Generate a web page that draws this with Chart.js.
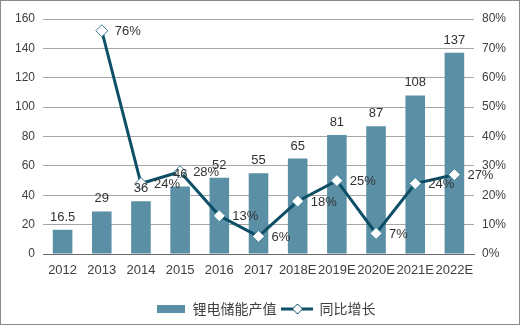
<!DOCTYPE html>
<html>
<head>
<meta charset="utf-8">
<script src="https://cdn.jsdelivr.net/npm/chart.js@4/dist/chart.umd.min.js"></script>
<style>
  html, body { margin: 0; padding: 0; background: #fff; }
  #wrap { width: 523px; height: 326px; }
</style>
</head>
<body>
<div id="wrap"><canvas id="chart" width="523" height="326"></canvas></div>
<script>
// chart data
const years = ['2012', '2013', '2014', '2015', '2016', '2017', '2018E', '2019E', '2020E', '2021E', '2022E'];
const output = [16.5, 29, 36, 46, 52, 55, 65, 81, 87, 108, 137];
const growth = [null, 76, 24, 28, 13, 6, 18, 25, 7, 24, 27];
const leftTicks = [0, 20, 40, 60, 80, 100, 120, 140, 160];
const rightTicks = [0, 10, 20, 30, 40, 50, 60, 70, 80];

const barColor = '#5b8fa6';
const lineColor = '#0d4f66';
const textColor = '#404040';

// legend icons
function barIcon() {
    const c = document.createElement('canvas');
    c.width = 28; c.height = 8;
    const g = c.getContext('2d');
    g.fillStyle = barColor;
    g.fillRect(0, 0, 28, 8);
    return c;
}
function lineIcon() {
    const c = document.createElement('canvas');
    c.width = 32; c.height = 12;
    const g = c.getContext('2d');
    g.strokeStyle = lineColor;
    g.lineWidth = 3;
    g.beginPath(); g.moveTo(0, 6); g.lineTo(32, 6); g.stroke();
    g.fillStyle = '#fff';
    g.lineWidth = 1;
    g.beginPath();
    g.moveTo(16, 1); g.lineTo(21, 6); g.lineTo(16, 11); g.lineTo(11, 6); g.closePath();
    g.fill(); g.stroke();
    return c;
}

// value labels above bars and right of points
const valueLabels = {
    id: 'valueLabels',
    afterDatasetsDraw(chart) {
        const ctx = chart.ctx;
        ctx.save();
        ctx.font = '13px "Liberation Sans", Arial, sans-serif';
        ctx.fillStyle = '#333';
        chart.getDatasetMeta(0).data.forEach((bar, i) => {
            ctx.textAlign = 'center';
            ctx.textBaseline = 'bottom';
            ctx.fillText(String(output[i]), bar.x, bar.y - 6);
        });
        chart.getDatasetMeta(1).data.forEach((pt, i) => {
            if (growth[i] == null) return;
            ctx.textAlign = 'left';
            ctx.textBaseline = 'middle';
            ctx.fillText(growth[i] + '%', pt.x + 13, pt.y + 1);
        });
        ctx.restore();
    }
};

// outer frame
const frame = {
    id: 'frame',
    afterDraw(chart) {
        const ctx = chart.ctx;
        ctx.save();
        ctx.strokeStyle = '#8a8a8a';
        ctx.lineWidth = 1;
        ctx.strokeRect(0.5, 0.5, 519, 324);
        ctx.restore();
    }
};

const ctx = document.getElementById('chart').getContext('2d');
new Chart(ctx, {
    data: {
        labels: years,
        datasets: [{
            type: 'bar',
            label: '锂电储能产值',
            data: output,
            backgroundColor: barColor,
            yAxisID: 'y',
            categoryPercentage: 1.0,
            barPercentage: 0.5,
            order: 1
        }, {
            type: 'line',
            label: '同比增长',
            data: growth,
            borderColor: lineColor,
            borderWidth: 3,
            pointStyle: 'rectRot',
            pointRadius: 6,
            pointBackgroundColor: '#fff',
            pointBorderColor: '#3d7f96',
            pointBorderWidth: 1,
            tension: 0,
            yAxisID: 'y1',
            order: 0
        }]
    },
    options: {
        responsive: false,
        animation: false,
        layout: { padding: { left: 12, right: 4, top: 19, bottom: 0 } },
        plugins: {
            tooltip: { enabled: false },
            legend: {
                position: 'bottom',
                labels: {
                    usePointStyle: true,
                    pointStyleWidth: 30,
                    padding: 6,
                    color: textColor,
                    font: { family: '"Noto Sans CJK SC", sans-serif', size: 14 },
                    generateLabels: function(chart) {
                        return [
                            { text: '锂电储能产值', pointStyle: barIcon(), datasetIndex: 0, fontColor: textColor, lineWidth: 0 },
                            { text: '同比增长', pointStyle: lineIcon(), datasetIndex: 1, fontColor: textColor, lineWidth: 0 }
                        ];
                    }
                }
            }
        },
        scales: {
            x: {
                grid: { display: false },
                border: { color: '#6b6b6b', width: 1 },
                afterFit: (scale) => { scale.height = 42; },
                ticks: {
                    autoSkip: false, maxRotation: 0, minRotation: 0, padding: 1,
                    color: textColor,
                    font: { family: '"Liberation Sans", Arial, sans-serif', size: 13 }
                }
            },
            y: {
                position: 'left',
                min: 0, max: 160,
                afterBuildTicks: (scale) => { scale.ticks = leftTicks.map(v => ({ value: v })); },
                afterFit: (scale) => { scale.width = 31; },
                grid: { color: '#a6a6a6', drawTicks: false },
                border: { display: false },
                ticks: {
                    padding: 8,
                    color: textColor,
                    font: { family: '"Liberation Sans", Arial, sans-serif', size: 12 }
                }
            },
            y1: {
                position: 'right',
                min: 0, max: 80,
                afterBuildTicks: (scale) => { scale.ticks = rightTicks.map(v => ({ value: v })); },
                afterFit: (scale) => { scale.width = 45; },
                grid: { display: false, drawTicks: false },
                border: { display: false },
                ticks: {
                    padding: 8,
                    color: textColor,
                    font: { family: '"Liberation Sans", Arial, sans-serif', size: 12 },
                    callback: (v) => v + '%'
                }
            }
        }
    },
    plugins: [valueLabels, frame]
});
</script>
</body>
</html>
